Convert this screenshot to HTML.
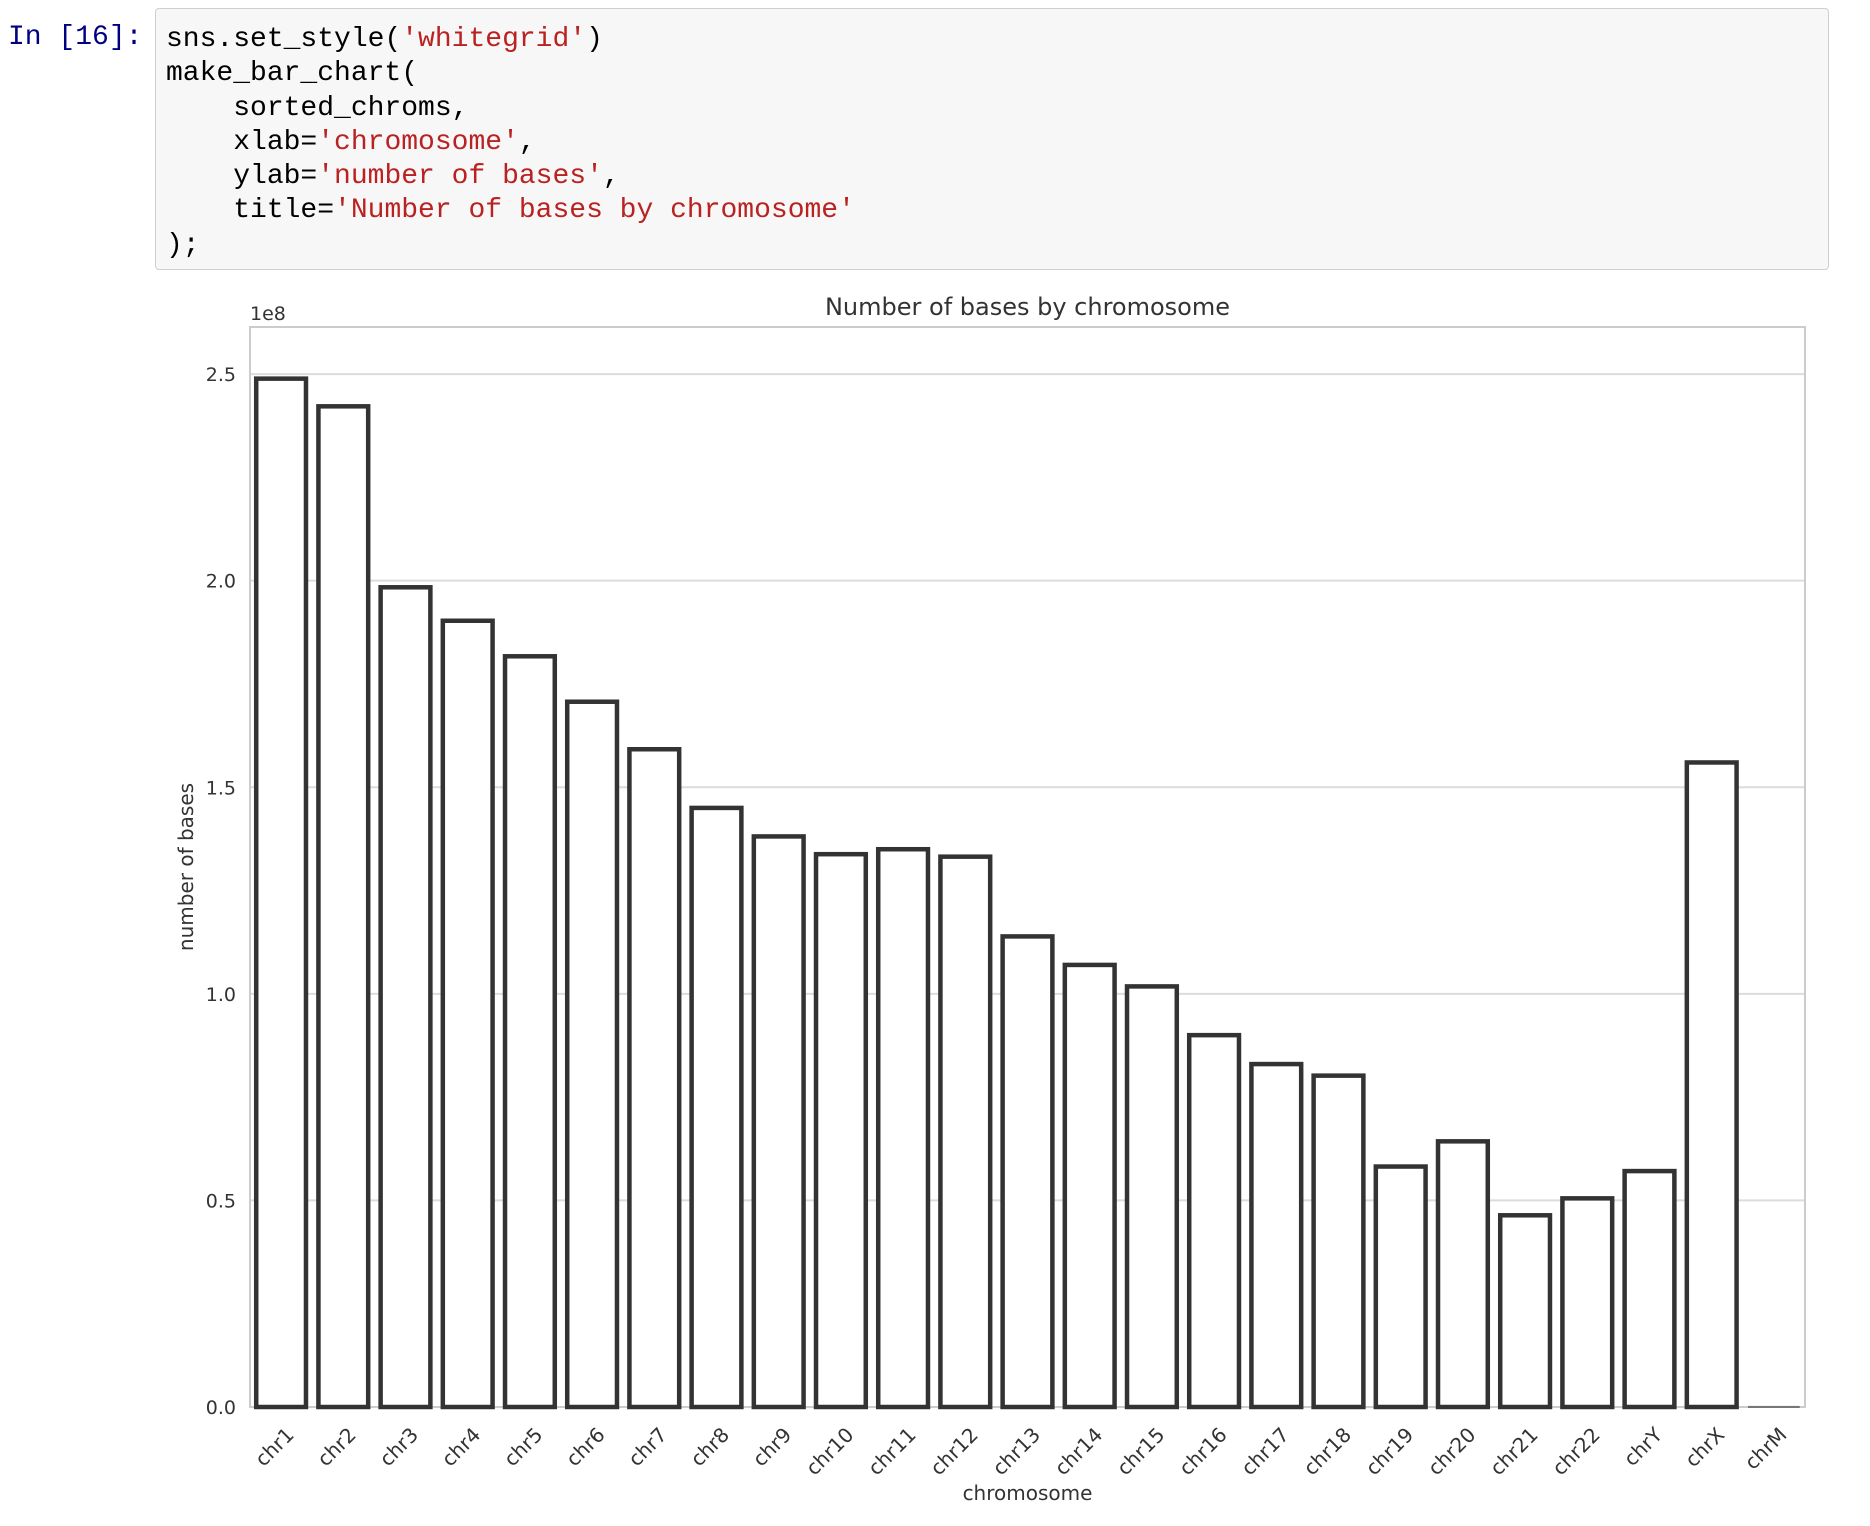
<!DOCTYPE html>
<html><head><meta charset="utf-8"><style>
body{margin:0;background:#fff;width:1870px;height:1526px;overflow:hidden;position:relative}
.prompt{position:absolute;left:8px;top:22px;font:28px "Liberation Mono",monospace;color:#000080}
.code{position:absolute;left:155px;top:8px;width:1674px;height:262px;background:#f7f7f7;border:1.5px solid #cfcfcf;border-radius:4px;box-sizing:border-box;padding:14px 10px;font:28px/34.3px "Liberation Mono",monospace;color:#000;white-space:pre}
.s{color:#ba2121}
svg{position:absolute;left:0;top:0}
</style></head><body>
<div class="prompt">In [16]:</div>
<div class="code">sns.set_style(<span class="s">'whitegrid'</span>)
make_bar_chart(
    sorted_chroms,
    xlab=<span class="s">'chromosome'</span>,
    ylab=<span class="s">'number of bases'</span>,
    title=<span class="s">'Number of bases by chromosome'</span>
);</div>
<svg id="chart" width="1870" height="1526"></svg>
<script>
const categories=["chr1","chr2","chr3","chr4","chr5","chr6","chr7","chr8","chr9","chr10","chr11","chr12","chr13","chr14","chr15","chr16","chr17","chr18","chr19","chr20","chr21","chr22","chrY","chrX","chrM"];
const values=[2.489,2.422,1.984,1.903,1.817,1.707,1.592,1.450,1.381,1.338,1.350,1.332,1.139,1.070,1.018,0.900,0.830,0.802,0.582,0.643,0.464,0.505,0.571,1.560,0.0002];
const yTicks=[0,0.5,1.0,1.5,2.0,2.5];
const yTickLabels=["0.0","0.5","1.0","1.5","2.0","2.5"];
const NS="http://www.w3.org/2000/svg";
const FF='DejaVu Sans, Liberation Sans, sans-serif';
const svg=document.getElementById('chart');
const L=250,R=1805,T=327,B=1407,yMax=2.614;
const y=v=>B-(v/yMax)*(B-T);
const band=(R-L)/categories.length;
const x=i=>L+band*i;
function mk(tag,attrs,text){const e=document.createElementNS(NS,tag);for(const k in attrs)e.setAttribute(k,attrs[k]);if(text!==undefined)e.textContent=text;svg.appendChild(e);return e;}
yTicks.forEach((t,i)=>{
  const g=mk('line',{x1:L,x2:R,y1:y(t),y2:y(t),stroke:'#dcdcdc','stroke-width':2});
  
  
  const lb=mk('text',{x:L-14,y:y(t)+7,'text-anchor':'end','font-family':FF,'font-size':19,fill:'#333'},yTickLabels[i]);
  
  
});
const fr=mk('rect',{x:L,y:T,width:R-L,height:B-T,fill:'none',stroke:'#cccccc','stroke-width':2});


categories.forEach((c,i)=>{
  const bw=band*0.8,bx=x(i)+band*0.1;
  const h=B-y(values[i]);
  const r=mk('rect',{x:bx,y:y(values[i]),width:bw,height:h,fill:'#fff',stroke:h<2?'#777':'#333','stroke-width':h<2?2:4.5});
  
  
  const cx=x(i)+band/2;
  const t=mk('text',{x:cx+14,y:B+29,'text-anchor':'end','font-family':FF,'font-size':20,fill:'#333',transform:`rotate(-45 ${cx+14} ${B+29})`},c);
  
  
});
const e8=mk('text',{x:L,y:320,'font-family':FF,'font-size':19,fill:'#333'},'1e8');


const ti=mk('text',{x:(L+R)/2,y:315,'text-anchor':'middle','font-family':FF,'font-size':24,fill:'#333'},'Number of bases by chromosome');


const xl=mk('text',{x:(L+R)/2,y:1500,'text-anchor':'middle','font-family':FF,'font-size':20,fill:'#333'},'chromosome');


const yl=mk('text',{x:193,y:(T+B)/2,'text-anchor':'middle','font-family':FF,'font-size':20,fill:'#333',transform:`rotate(-90 193 ${(T+B)/2})`},'number of bases');


</script>
</body></html>
